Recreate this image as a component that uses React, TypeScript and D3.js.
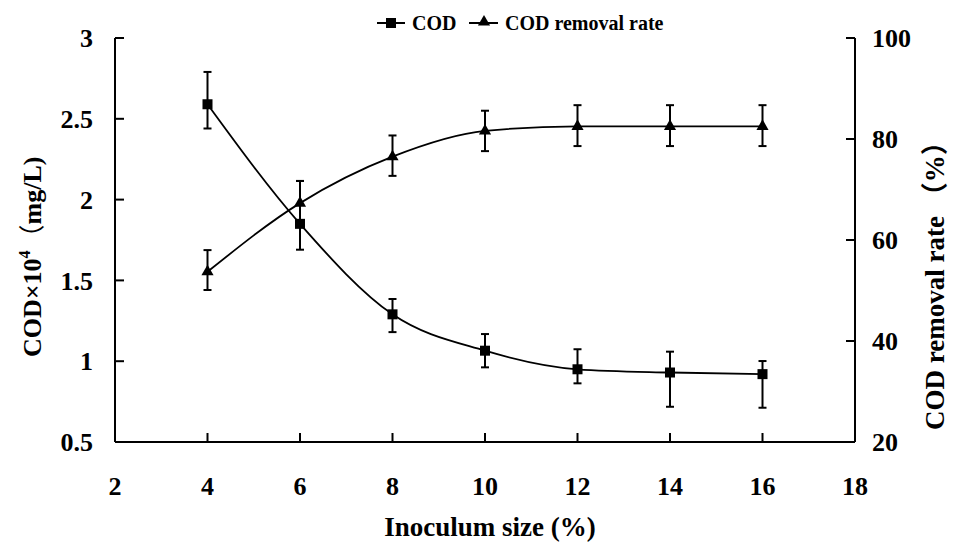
import React from "react";
import * as d3 from "d3";

const xVals = [4, 6, 8, 10, 12, 14, 16];
const codVals = [2.59, 1.85, 1.29, 1.065, 0.95, 0.93, 0.92];
const codErrHi = [2.79, 2.115, 1.385, 1.168, 1.074, 1.059, 1.001];
const codErrLo = [2.44, 1.69, 1.18, 0.962, 0.863, 0.718, 0.712];
const rateVals = [53.7, 67.3, 76.5, 81.6, 82.5, 82.5, 82.5];
const rateErrHi = [58.0, 71.7, 80.7, 85.6, 86.7, 86.7, 86.7];
const rateErrLo = [50.1, 63.0, 72.7, 77.6, 78.6, 78.6, 78.6];
const xTicks = [2, 4, 6, 8, 10, 12, 14, 16, 18];
const yLeftTicks = [0.5, 1, 1.5, 2, 2.5, 3];
const yLeftLabels = ["0.5", "1", "1.5", "2", "2.5", "3"];
const yRightTicks = [20, 40, 60, 80, 100];

const FONT = "'Liberation Serif', 'Times New Roman', serif";
const CJK = "'Noto Sans CJK SC', sans-serif";

export default function App() {
  const W = 956, H = 546;
  const x = d3.scaleLinear().domain([2, 18]).range([115, 855]);
  const yL = d3.scaleLinear().domain([0.5, 3]).range([442, 38]);
  const yR = d3.scaleLinear().domain([20, 100]).range([442, 38]);
  const curve = d3.curveMonotoneX;
  const codLine = d3.line<number>().x((_, i) => x(xVals[i])).y((d) => yL(d)).curve(curve);
  const rateLine = d3.line<number>().x((_, i) => x(xVals[i])).y((d) => yR(d)).curve(curve);
  const tri = d3.symbol().type(d3.symbolTriangle).size(64)();
  const tickLen = 9;
  const cap = 4;

  return (
    <svg width={W} height={H} style={{ position: "absolute", left: 0, top: 0, background: "#fff" }} fontFamily={FONT} fontWeight="bold">
      {/* axes */}
      <g stroke="#000" strokeWidth={2} fill="none">
        <line x1={x(2)} x2={x(18)} y1={yL(0.5)} y2={yL(0.5)} />
        <line x1={x(2)} x2={x(2)} y1={yL(0.5)} y2={yL(3)} />
        <line x1={x(18)} x2={x(18)} y1={yR(20)} y2={yR(100)} />
        {yLeftTicks.map((t) => (
          <line key={"l" + t} x1={x(2)} x2={x(2) + tickLen} y1={yL(t)} y2={yL(t)} />
        ))}
        {yRightTicks.map((t) => (
          <line key={"r" + t} x1={x(18) - tickLen} x2={x(18)} y1={yR(t)} y2={yR(t)} />
        ))}
        {xTicks.map((t) => (
          <line key={"x" + t} x1={x(t)} x2={x(t)} y1={yL(0.5)} y2={yL(0.5) - tickLen} />
        ))}
      </g>
      {/* tick labels */}
      <g fontSize={26} fill="#000">
        {yLeftTicks.map((t, i) => (
          <text key={"lt" + t} x={93} y={yL(t)} dy="0.35em" textAnchor="end">{yLeftLabels[i]}</text>
        ))}
        {yRightTicks.map((t) => (
          <text key={"rt" + t} x={872} y={yR(t)} dy="0.35em" textAnchor="start">{t}</text>
        ))}
        {xTicks.map((t) => (
          <text key={"xt" + t} x={x(t)} y={495} textAnchor="middle">{t}</text>
        ))}
      </g>
      {/* axis titles */}
      <text x={490} y={536} fontSize={27} textAnchor="middle">Inoculum size (%)</text>
      <text transform="translate(41,357) rotate(-90)" fontSize={26} textAnchor="start">
        COD×10<tspan fontSize={16} dy={-11}>4</tspan><tspan dy={11} fontFamily={CJK} fontWeight="normal">（</tspan><tspan>mg/L)</tspan>
      </text>
      <text transform="translate(944,430) rotate(-90)" fontSize={27} textAnchor="start">
        COD removal rate <tspan fontFamily={CJK} fontWeight="bold">（</tspan><tspan>%</tspan><tspan fontFamily={CJK} fontWeight="bold">）</tspan>
      </text>
      {/* lines */}
      <path d={codLine(codVals) || ""} fill="none" stroke="#000" strokeWidth={1.8} />
      <path d={rateLine(rateVals) || ""} fill="none" stroke="#000" strokeWidth={1.8} />
      {/* error bars */}
      <g stroke="#000" strokeWidth={2}>
        {xVals.map((xv, i) => (
          <g key={"ec" + xv}>
            <line x1={x(xv)} x2={x(xv)} y1={yL(codErrHi[i])} y2={yL(codErrLo[i])} />
            <line x1={x(xv) - cap} x2={x(xv) + cap} y1={yL(codErrHi[i])} y2={yL(codErrHi[i])} />
            <line x1={x(xv) - cap} x2={x(xv) + cap} y1={yL(codErrLo[i])} y2={yL(codErrLo[i])} />
          </g>
        ))}
        {xVals.map((xv, i) => (
          <g key={"er" + xv}>
            <line x1={x(xv)} x2={x(xv)} y1={yR(rateErrHi[i])} y2={yR(rateErrLo[i])} />
            <line x1={x(xv) - cap} x2={x(xv) + cap} y1={yR(rateErrHi[i])} y2={yR(rateErrHi[i])} />
            <line x1={x(xv) - cap} x2={x(xv) + cap} y1={yR(rateErrLo[i])} y2={yR(rateErrLo[i])} />
          </g>
        ))}
      </g>
      {/* markers */}
      {xVals.map((xv, i) => (
        <rect key={"sq" + xv} x={x(xv) - 5} y={yL(codVals[i]) - 5} width={10} height={10} fill="#000" />
      ))}
      {xVals.map((xv, i) => (
        <path key={"tr" + xv} d={tri || ""} transform={`translate(${x(xv)},${yR(rateVals[i])})`} fill="#000" />
      ))}
      {/* legend */}
      <g>
        <line x1={377} x2={405} y1={23} y2={23} stroke="#000" strokeWidth={2} />
        <rect x={386} y={18} width={10} height={10} fill="#000" />
        <text x={412} y={30} fontSize={20}>COD</text>
        <line x1={469} x2={498} y1={23} y2={23} stroke="#000" strokeWidth={2} />
        <path d={tri || ""} transform="translate(484,22)" fill="#000" />
        <text x={505} y={30} fontSize={20}>COD removal rate</text>
      </g>
    </svg>
  );
}
